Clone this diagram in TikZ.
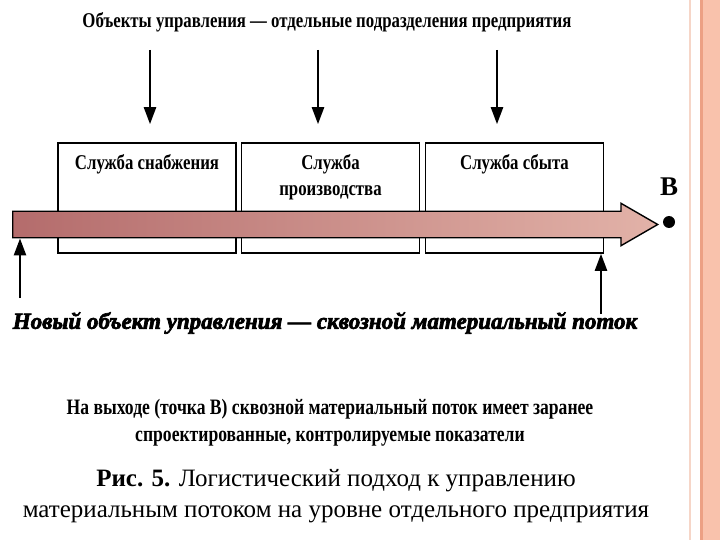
\documentclass[tikz,border=0pt]{standalone}
\usepackage{fontspec}
\setmainfont{Liberation Serif}
\newfontfamily\narrowfont[FakeStretch=0.8]{Liberation Serif}
\newfontfamily\heavyfont[FakeBold=3]{Liberation Serif}
\usetikzlibrary{positioning,shapes.arrows,arrows.meta}
\definecolor{sidepink}{RGB}{249,194,172}
\definecolor{sideline}{RGB}{236,160,132}
\definecolor{sidepale}{RGB}{246,214,200}
\definecolor{flowdark}{RGB}{180,108,108}
\definecolor{flowlight}{RGB}{226,178,168}

\begin{document}
\begin{tikzpicture}[x=1pt, y=-1pt,
  every node/.style={font=\narrowfont\bfseries\fontsize{21}{26}\selectfont},
  dept/.style={rectangle, draw, line width=1.6pt, minimum width=178pt, minimum height=110pt, inner sep=0pt},
  flow/.style={single arrow, draw, line width=1.4pt, minimum height=645pt, inner xsep=0pt, inner ysep=12.5pt,
    single arrow head extend=8pt, single arrow tip angle=60,
    left color=flowdark, right color=flowlight},
  ctrl/.style={line width=2.4pt, -{Triangle[length=17pt,width=12pt]}}]
  \useasboundingbox (0,0) rectangle (720,540);
  % side band of the slide
  \fill[sidepink] (703,0) rectangle (720,540);
  \draw[sideline, line width=3pt] (701.5,0) -- (701.5,540);
  \draw[sidepale, line width=2pt] (690,0) -- (690,540);

  \node (title) at (327,22) {Объекты управления — отдельные подразделения предприятия};

  % departments
  \node[dept, label={[anchor=north, inner sep=0pt, yshift=-12pt]north:Служба снабжения}] (snab) at (147,198) {};
  \node[dept, label={[anchor=north, inner sep=0pt, yshift=-12pt, align=center]north:Служба\\производства}] (proizv) at (330.5,198) {};
  \node[dept, label={[anchor=north, inner sep=0pt, yshift=-12pt]north:Служба сбыта}] (sbyt) at (514.5,198) {};

  \coordinate (toSnab) at (150,50);
  \coordinate (toProizv) at (318,50);
  \coordinate (toSbyt) at (497,50);
  \draw[ctrl, shorten >=18pt] (toSnab) -- (toSnab |- snab.north);
  \draw[ctrl, shorten >=18pt] (toProizv) -- (toProizv |- proizv.north);
  \draw[ctrl, shorten >=18pt] (toSbyt) -- (toSbyt |- sbyt.north);

  % material flow
  \node[flow, anchor=tail] (flow) at (12,224.5) {};
  \node[circle, fill=black, inner sep=0pt, minimum size=12pt,
    label={[inner sep=0pt, label distance=20pt, font=\bfseries\fontsize{27}{27}\selectfont]above:В}] (pointB) at (669,222) {};

  \coordinate (inL) at (20,298);
  \coordinate (outR) at (601,314);
  \draw[ctrl] (inL) -- (inL |- flow.south);
  \draw[ctrl] (outR) -- (outR |- sbyt.south);

  \node[font=\heavyfont\bfseries\itshape\fontsize{23}{28}\selectfont] (newobj) at (325,323)
    {Новый объект управления — сквозной материальный поток};
  \node[align=center, font=\narrowfont\bfseries\fontsize{22}{27}\selectfont] (output) at (330,423)
    {На выходе (точка В) сквозной материальный поток имеет заранее\\спроектированные, контролируемые показатели};
  \node[align=center, font=\fontsize{25}{31}\selectfont] (caption) at (336,496)
    {\textbf{Рис. 5.} Логистический подход к управлению\\материальным потоком на уровне отдельного предприятия};
\end{tikzpicture}
\end{document}
